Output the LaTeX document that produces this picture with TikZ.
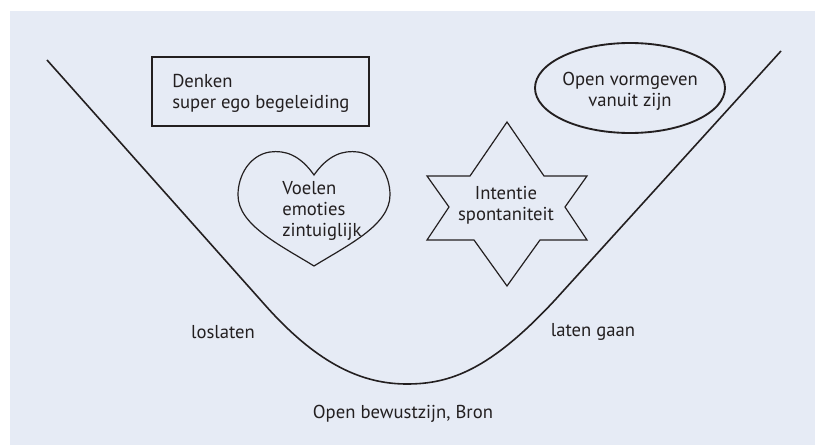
\documentclass[tikz,border=0pt]{standalone}
\usepackage{fontspec}
\setmainfont{PT Sans}
\definecolor{panel}{HTML}{E6EBF5}
\definecolor{ink}{HTML}{231F20}
\begin{document}
\begin{tikzpicture}[x=0.75pt,y=-0.75pt,
  lbl/.style={inner sep=0pt, text=ink, font=\fontsize{14}{15.75}\selectfont},
  figline/.style={draw=ink, line width=0.9pt, line join=miter}]
\useasboundingbox (0,0) rectangle (815,445);
\fill[panel] (10,11) rectangle (815,445);
\coordinate (vleft) at (47,60);
\coordinate (vbottom) at (407,384);
\coordinate (vright) at (781,51);
\draw[ink, line width=1.2pt] (vleft) -- (265,305) .. controls (320,367) and (365,384) .. (vbottom)
  .. controls (450,384) and (490,370) .. (555,300) -- (vright);
\draw[ink, line width=1.8pt] (152,57) rectangle (369,126);
\node[lbl, anchor=west, align=left] (denken) at (172,93) {Denken\\super ego begeleiding};
\draw[ink, line width=1.4pt] (630,88) ellipse [x radius=71.25pt, y radius=33.75pt];
\node[lbl, align=center] (open) at (630,91) {Open vormgeven\\vanuit zijn};
\draw[figline] (314,175) .. controls (300,155) and (285,150) .. (270,152)
  .. controls (250,155) and (238,175) .. (238,195)
  .. controls (238,225) and (280,245) .. (314,266)
  .. controls (348,245) and (390,225) .. (390,195)
  .. controls (390,175) and (378,155) .. (358,152)
  .. controls (343,150) and (328,155) .. cycle;
\node[lbl, anchor=west, align=left] (voelen) at (282,211) {Voelen\\emoties\\zintuiglijk};
\draw[figline] (507,122) -- (544,176) -- (587,176) -- (565,207) -- (587,240) -- (540,240)
  -- (507,286) -- (474,240) -- (427,240) -- (449,207) -- (427,176) -- (470,176) -- cycle;
\node[lbl, align=center] (intentie) at (506,205) {Intentie\\spontaniteit};
\node[lbl] (loslaten) at (223,332) {loslaten};
\node[lbl] (latengaan) at (593,332) {laten gaan};
\node[lbl] (bron) at (403,414) {Open bewustzijn, Bron};
\end{tikzpicture}
\end{document}
